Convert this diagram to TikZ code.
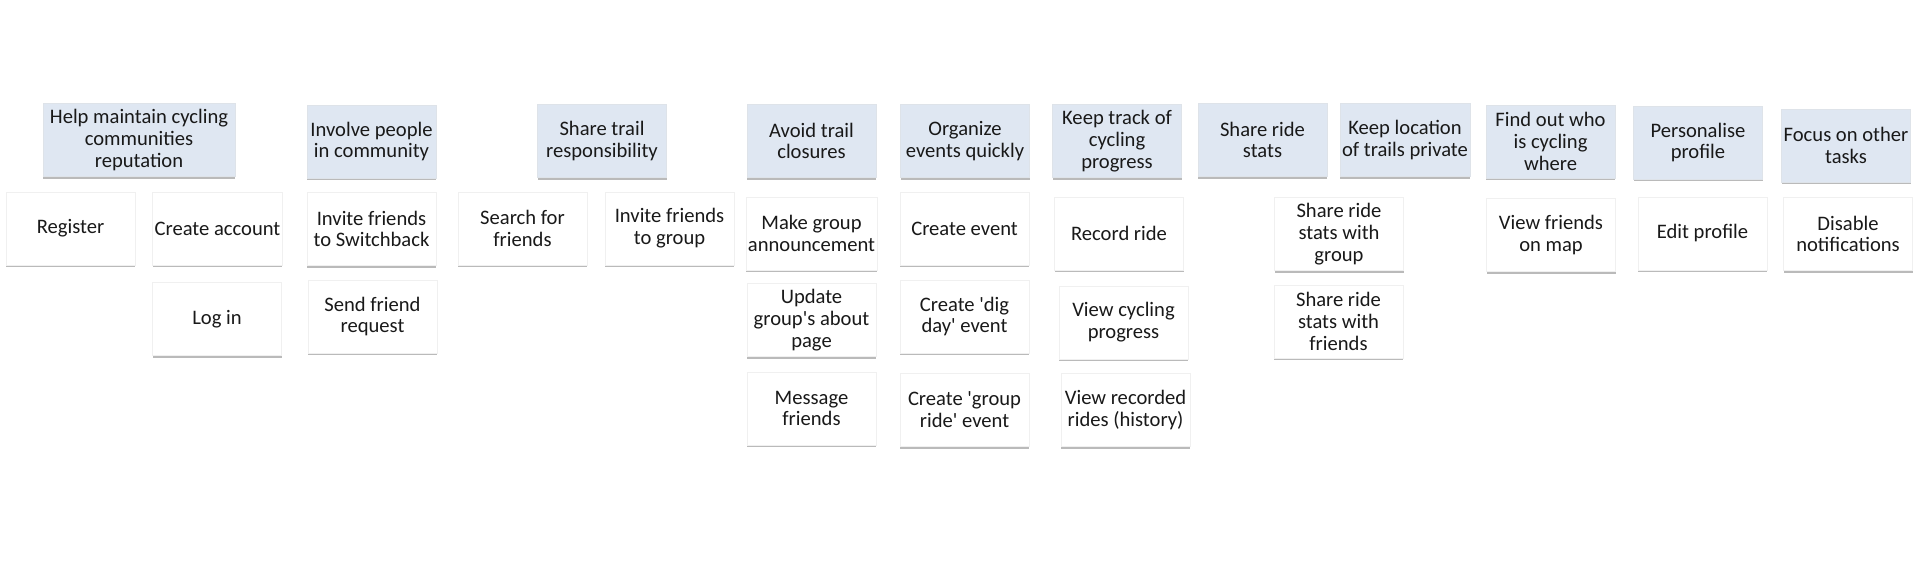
\documentclass[tikz,border=0pt]{standalone}
\usepackage{fontspec}
\setmainfont{Carlito}[Ligatures=TeXOff]
\usetikzlibrary{shadows}
\definecolor{goalfill}{RGB}{223,231,242}
\definecolor{txt}{RGB}{25,25,25}
\tikzset{
  card/.style={fill=white, draw=black!6, line width=0.3pt, inner sep=1pt,
    minimum width=64.5pt, minimum height=36.5pt, align=center,
    font=\fontsize{10.3}{10.9}\selectfont, text=txt,
    drop shadow={shadow xshift=0pt, shadow yshift=-1.2pt, fill=black!45, opacity=0.6}},
  goal/.style={card, fill=goalfill, draw=goalfill!90!black!60},
  task/.style={card}
}
\begin{document}
\begin{tikzpicture}[x=0.5pt,y=-0.5pt]
\useasboundingbox (0,0) rectangle (1920,576);
% goals
\node[goal, minimum width=96pt] (g1) at (139,140) {Help maintain cycling\\communities\\reputation};
\node[goal] (g2) at (371.5,141.5) {Involve people\\in community};
\node[goal] (g3) at (602,141) {Share trail\\responsibility};
\node[goal] (g4) at (811.5,141) {Avoid trail\\closures};
\node[goal] (g5) at (965,141) {Organize\\events quickly};
\node[goal] (g6) at (1117,141) {Keep track of\\cycling\\progress};
\node[goal] (g7) at (1262.5,140) {Share ride\\stats};
\node[goal] (g8) at (1405,140) {Keep location\\of trails private};
\node[goal] (g9) at (1550.5,141.5) {Find out who\\is cycling\\where};
\node[goal] (g10) at (1698,142.5) {Personalise\\profile};
\node[goal] (g11) at (1846,145.5) {Focus on other\\tasks};
% tasks
\node[task] (t1) at (70.5,228.5) {Register};
\node[task] (t2) at (217.5,228.5) {Create account};
\node[task] (t3) at (217,319) {Log in};
\node[task] (t4) at (371.5,229) {Invite friends\\to Switchback};
\node[task] (t5) at (372.5,316.5) {Send friend\\request};
\node[task] (t6) at (522.5,228.5) {Search for\\friends};
\node[task] (t7) at (669.5,228.5) {Invite friends\\to group};
\node[task] (t8) at (811.5,233.5) {Make group\\announcement};
\node[task] (t9) at (811.5,320) {Update\\group's about\\page};
\node[task] (t10) at (811.5,408.5) {Message\\friends};
\node[task] (t11) at (964.5,228.5) {Create event};
\node[task] (t12) at (964.5,316.5) {Create 'dig\\day' event};
\node[task] (t13) at (964.5,410) {Create 'group\\ride' event};
\node[task] (t14) at (1119,233.5) {Record ride};
\node[task] (t15) at (1123.5,322.5) {View cycling\\progress};
\node[task] (t16) at (1125.5,410) {View recorded\\rides (history)};
\node[task] (t17) at (1339,234) {Share ride\\stats with\\group};
\node[task] (t18) at (1338.5,321.5) {Share ride\\stats with\\friends};
\node[task] (t19) at (1551,235) {View friends\\on map};
\node[task] (t20) at (1702.5,233.5) {Edit profile};
\node[task] (t21) at (1848,234) {Disable\\notifications};
\end{tikzpicture}
\end{document}
